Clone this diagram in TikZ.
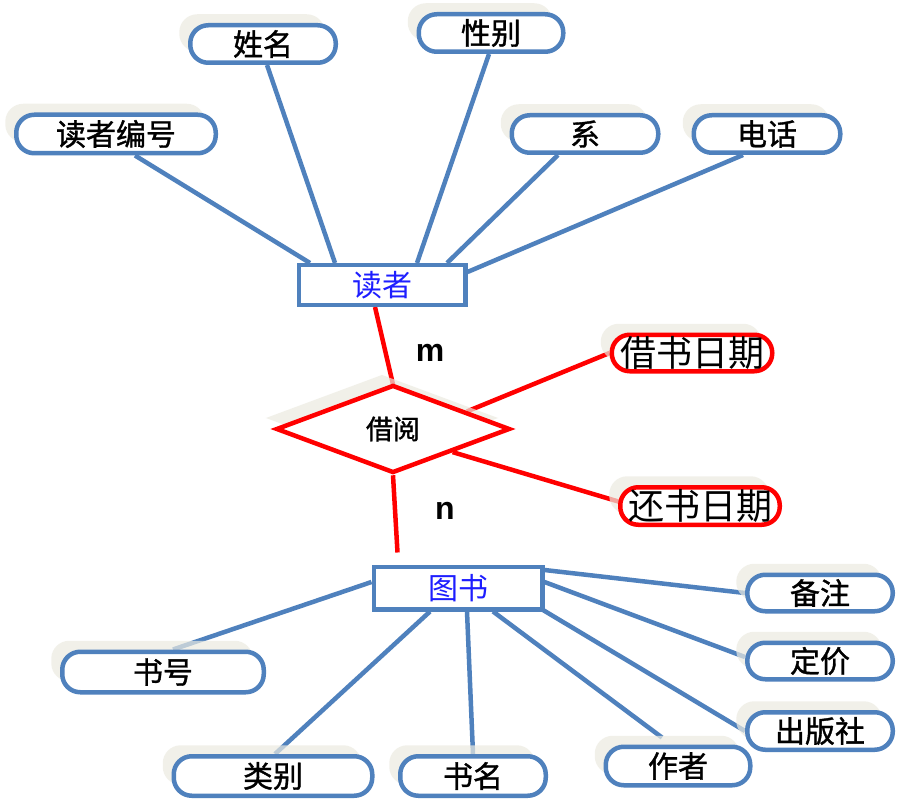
\documentclass[tikz,border=0pt]{standalone}
\usepackage{fontspec}
\newfontfamily\cjk{Noto Sans CJK SC}
\newfontfamily\cjkb[FakeBold=1.2]{Noto Sans CJK SC}
\newfontfamily\lsans{Liberation Sans}
\usetikzlibrary{shapes.geometric,calc}
\definecolor{eblue}{RGB}{79,129,189}
\definecolor{shcol}{RGB}{236,235,225}
\definecolor{tblue}{RGB}{30,30,255}
\pgfdeclarelayer{bg}
\pgfsetlayers{bg,main}
\begin{document}
\begin{tikzpicture}[x=1pt,y=-1pt,
  shadowed/.style={preaction={fill=shcol,fill opacity=0.7,draw=none,transform canvas={shift={(-11pt,11pt)}}}},
  attr/.style={shadowed,draw=eblue,line width=4.5pt,fill=white,rounded corners=18pt,inner sep=0pt,
    font=\cjkb\fontsize{30}{30}\selectfont},
  redattr/.style={attr,draw=red,font=\cjk\fontsize{36}{36}\selectfont},
  entity/.style={draw=eblue,line width=4.5pt,fill=white,inner sep=0pt,text=tblue,
    font=\cjk\fontsize{30}{30}\selectfont},
  rel/.style={diamond,shadowed,draw=red,line width=4.5pt,fill=white,inner sep=0pt,
    font=\cjkb\fontsize{27}{27}\selectfont},
  card/.style={font=\lsans\bfseries\fontsize{32}{32}\selectfont,inner sep=0pt},
  bl/.style={draw=eblue,line width=4.5pt},
  rl/.style={draw=red,line width=4.5pt}]
\useasboundingbox (0,0) rectangle (901,799);
% entities
\node[entity,minimum width=166.5pt,minimum height=39.5pt] (dz) at (382,285) {读者};
\node[entity,minimum width=168.5pt,minimum height=42.5pt] (ts) at (458,588) {图书};
% relationship
\node[rel,minimum width=234pt,minimum height=88pt] (jy) at (393,429) {借阅};
% reader attributes
\node[attr,minimum width=199.5pt,minimum height=38.5pt] (bh) at (116,134) {读者编号};
\node[attr,minimum width=145.5pt,minimum height=37.5pt] (xm) at (263,44) {姓名};
\node[attr,minimum width=144.5pt,minimum height=37.5pt] (xb) at (491,33) {性别};
\node[attr,minimum width=146.5pt,minimum height=37.5pt] (xi) at (585,134) {系};
\node[attr,minimum width=146.5pt,minimum height=37.5pt] (dh) at (767,134) {电话};
% relationship attributes
\node[redattr,minimum width=160.5pt,minimum height=36.5pt] (jd) at (692,353) {借书日期};
\node[redattr,minimum width=159.5pt,minimum height=37.5pt] (hd) at (700,506) {还书日期};
% book attributes
\node[attr,minimum width=201.5pt,minimum height=40.5pt] (sh) at (163,672) {书号};
\node[attr,minimum width=198.5pt,minimum height=39.5pt] (lb) at (273,776) {类别};
\node[attr,minimum width=145.5pt,minimum height=39.5pt] (sm) at (473,776) {书名};
\node[attr,minimum width=144.5pt,minimum height=38.5pt] (zz) at (678,766) {作者};
\node[attr,minimum width=145.5pt,minimum height=37.5pt] (cb) at (820,731) {出版社};
\node[attr,minimum width=145.5pt,minimum height=36.5pt] (dj) at (820,661) {定价};
\node[attr,minimum width=145.5pt,minimum height=36.5pt] (bz) at (820,593) {备注};
% cardinalities
\node[card] (lm) at (430,353) {m};
\node[card] (ln) at (445,511) {n};
\coordinate (tsin) at ($(ts.north west)+(26,-12)$);
\coordinate (zzin) at ($(zz.north)+(-16,-7)$);
\begin{pgfonlayer}{bg}
\fill[white] (0,0) rectangle (901,799);
\draw[bl] ($(bh.south)+(19,0)$) -- ($(dz.north)+(-72,0)$);
\draw[bl] ($(xm.south)+(4,0)$) -- ($(dz.north)+(-47,0)$);
\draw[bl] ($(xb.south)+(-2,0)$) -- ($(dz.north)+(35,0)$);
\draw[bl] ($(xi.south)+(-27,0)$) -- ($(dz.north)+(65,0)$);
\draw[bl] ($(dh.south)+(-24,0)$) -- ($(dz.east)+(0,-13)$);
\draw[rl] ($(dz.south)+(-7,0)$) -- ($(jy.north)+(1,6)$);
\draw[rl] (jy.south) -- (tsin);
\draw[rl] ($(jy.north)!0.62!(jy.east)$) -- (jd.west);
\draw[rl] ($(jy.east)!0.5!(jy.south)$) -- ($(hd.west)+(2,-4)$);
\draw[bl] ($(ts.west)+(0,-6)$) -- ($(sh.north)+(10,0)$);
\draw[bl] ($(ts.south)+(-28,0)$) -- ($(lb.north)+(2,0)$);
\draw[bl] ($(ts.south)+(9,0)$) -- (sm.north);
\draw[bl] ($(ts.south)+(35,0)$) -- (zzin);
\draw[bl] ($(ts.south east)+(-4,-3)$) -- (cb.west);
\draw[bl] ($(ts.east)+(0,-6)$) -- ($(dj.west)+(0,-4)$);
\draw[bl] ($(ts.east)+(0,-18)$) -- (bz.west);
\end{pgfonlayer}
\end{tikzpicture}
\end{document}
